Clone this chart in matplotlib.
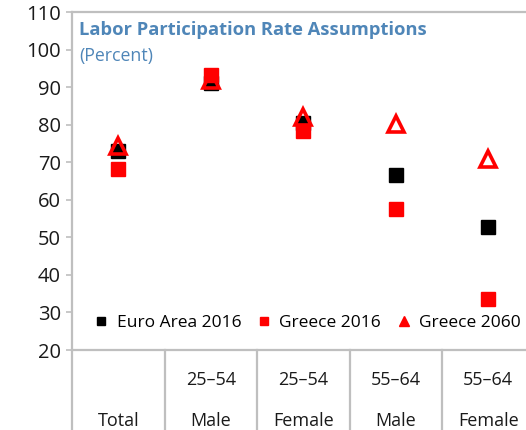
import matplotlib
matplotlib.use("Agg")
import matplotlib.pyplot as plt
from matplotlib.lines import Line2D
from matplotlib.transforms import blended_transform_factory

plt.rcParams['font.family'] = ['Open Sans', 'DejaVu Sans']

# Data
age_groups = ["", "25–54", "25–54", "55–64", "55–64"]
sexes = ["Total", "Male", "Female", "Male", "Female"]
euro_area_2016 = [72.9, 91.0, 80.4, 66.5, 52.7]
greece_2016 = [68.1, 93.1, 78.2, 57.5, 33.6]
greece_2060 = [74.3, 91.8, 82.0, 80.1, 70.8]
y_ticks = [20, 30, 40, 50, 60, 70, 80, 90, 100, 110]

W, H = 526, 430
fig = plt.figure(figsize=(W / 100, H / 100), dpi=100)
left, right, top, bottom = 72, 534.5, 12, 350
ax = fig.add_axes([left / W, (H - bottom) / H, (right - left) / W, (bottom - top) / H])

grey = "#BFBFBF"
title_blue = "#4F86B8"
n = len(sexes)
x = [i + 0.5 for i in range(n)]

ax.plot(x, euro_area_2016, linestyle="none", marker="s", markersize=10.5,
        color="black", zorder=3)
ax.plot(x, greece_2016, linestyle="none", marker="s", markersize=10.5,
        color="#FF0000", zorder=4)
ax.plot(x, greece_2060, linestyle="none", marker="^", markersize=11.5,
        markerfacecolor="none", markeredgecolor="#FF0000", markeredgewidth=2.6,
        zorder=5)

ax.set_xlim(0, n)
ax.set_ylim(20, 110)
ax.set_yticks(y_ticks)
ax.set_xticks([])
ax.tick_params(axis="y", direction="out", length=4, width=1.2, color=grey,
               labelsize=14.5, pad=4, labelcolor="#1A1A1A")

for side in ["top", "left", "bottom"]:
    ax.spines[side].set_color(grey)
    ax.spines[side].set_linewidth(1.6)
ax.spines["right"].set_visible(False)

# Category labels and separators below the plot area
trans = blended_transform_factory(ax.transData, ax.transAxes)
px = 1.0 / (bottom - top)
for i in range(n):
    if age_groups[i]:
        ax.text(x[i], -(380 - bottom) * px, age_groups[i], transform=trans,
                ha="center", va="center", fontsize=13, color="#1A1A1A")
    ax.text(x[i], -(421 - bottom) * px, sexes[i], transform=trans,
            ha="center", va="center", fontsize=13, color="#1A1A1A")
for i in range(n + 1):
    ax.add_line(Line2D([i, i], [0, -(H - bottom + 5) * px], transform=trans,
                       color=grey, linewidth=1.6, clip_on=False))

# Title
ax.text(7 / (right - left), 1 - (30 - top) * px, "Labor Participation Rate Assumptions",
        transform=ax.transAxes, ha="left", va="center", fontsize=13.2,
        fontweight="bold", color=title_blue)
ax.text(7 / (right - left), 1 - (56 - top) * px, "(Percent)",
        transform=ax.transAxes, ha="left", va="center", fontsize=12.8,
        color=title_blue)

# Legend
handles = [
    Line2D([], [], linestyle="none", marker="s", markersize=6, color="black"),
    Line2D([], [], linestyle="none", marker="s", markersize=6, color="#FF0000"),
    Line2D([], [], linestyle="none", marker="^", markersize=6.5, color="#FF0000"),
]
labels = ["Euro Area 2016", "Greece 2016", "Greece 2060"]
ax.legend(handles, labels, loc="center left",
          bbox_to_anchor=(22 / (right - left), (bottom - 323) * px),
          ncol=3, frameon=False, fontsize=12.5, handlelength=0.8,
          handletextpad=0.5, columnspacing=0.9, borderaxespad=0.0,
          borderpad=0.0)

fig.savefig("out.png", dpi=100)
